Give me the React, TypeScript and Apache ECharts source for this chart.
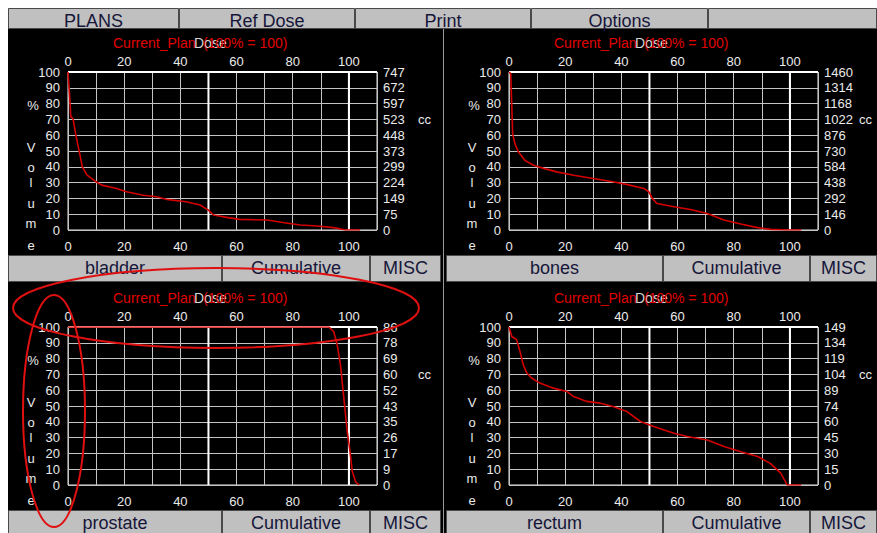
import React, { useEffect, useRef } from 'react';
import * as echarts from 'echarts';

// ---------- data ----------
const doseTickLabels = [0, 20, 40, 60, 80, 100];
const volumeTickLabels = [100, 90, 80, 70, 60, 50, 40, 30, 20, 10, 0];
const majorDoseLines = [50, 100];
const majorVolumeLines = [100];
const doseAxisMax = 110;

const ccLabelsBladder = ['747', '672', '597', '523', '448', '373', '299', '224', '149', '75', '0'];
const ccLabelsBones = ['1460', '1314', '1168', '1022', '876', '730', '584', '438', '292', '146', '0'];
const ccLabelsProstate = ['86', '78', '69', '60', '52', '43', '35', '26', '17', '9', '0'];
const ccLabelsRectum = ['149', '134', '119', '104', '89', '74', '60', '45', '30', '15', '0'];

const bladderDose = [0, 0.6, 1, 1.8, 2.7, 3.9, 5.1, 6.8, 10, 12, 17.3, 20.8, 26.8, 31.5, 35, 42, 47, 50, 51.8, 56.5, 61, 71, 77, 82.7, 88.7, 94.6, 98.8, 104];
const bladderVolume = [100, 84, 71.6, 70.5, 61, 50.5, 40, 34.7, 30.5, 28.4, 26.3, 24.2, 22, 21, 19.4, 17.9, 15.8, 12.6, 9.5, 8, 6.7, 6.3, 4.6, 3.2, 2.5, 1.5, 0, 0];

const bonesDose = [0, 0.6, 1, 1.3, 2.1, 3.3, 5.7, 8.7, 12.3, 17, 23, 30, 37, 43, 48, 49.8, 51, 52.7, 58.7, 64.6, 70.6, 76.5, 82.5, 88.5, 93.2, 99, 104];
const bonesVolume = [100, 99, 78, 61, 54.7, 49.5, 44, 41, 39, 36.8, 34.7, 32.6, 30.5, 28.4, 26.3, 24.2, 20, 16.8, 14.7, 13, 10.5, 6.3, 3.8, 1.5, 0.4, 0, 0];

const prostateDose = [0, 92.9, 94.6, 95.8, 97, 98.2, 99.4, 100.4, 101.2, 102.4, 103.6];
const prostateVolume = [100, 100, 97, 89, 76, 55, 34, 21, 8.5, 2, 0];

const rectumDose = [0, 1, 2.7, 3.9, 5.1, 6.3, 8, 11, 15.8, 20.6, 23, 27.7, 32.5, 37, 42, 46.8, 51.5, 58.7, 63.5, 70.6, 76.5, 82.5, 88.5, 93, 96.8, 99, 104];
const rectumVolume = [100, 94, 92, 84.6, 76, 71, 67.7, 64.5, 61.3, 59.2, 56, 52.9, 51.8, 49.7, 46.5, 40.2, 37, 32.8, 30.7, 28.5, 24.3, 21, 18, 13.7, 7.4, 0, 0];

const structureNames = ['bladder', 'bones', 'prostate', 'rectum'];
const topButtonLabels = ['PLANS', 'Ref Dose', 'Print', 'Options', ''];
const panelButtonLabels = ['Cumulative', 'MISC'];
const titleMain = 'Current_Plan';
const titleRef = '(100% = 100)';
const titleDose = 'Dose';
const unitLabel = 'cc';
const volumeLetters = ['%', 'V', 'o', 'l', 'u', 'm', 'e'];

// ---------- layout ----------
const FONT = '"Liberation Sans", Arial, sans-serif';
const TXT = '#ebebeb';
const BTN_TXT = '#16163a';
const GRID_W = 309;
const GRID_H = 158;

const panels = [
  { dose: bladderDose, volume: bladderVolume, cc: ccLabelsBladder, left: 68, top: 72 },
  { dose: bonesDose, volume: bonesVolume, cc: ccLabelsBones, left: 509, top: 72 },
  { dose: prostateDose, volume: prostateVolume, cc: ccLabelsProstate, left: 68, top: 327 },
  { dose: rectumDose, volume: rectumVolume, cc: ccLabelsRectum, left: 509, top: 327 },
];

const letterOffsets = [
  { dx: -35, dy: 33 },
  { dx: -37, dy: 75 },
  { dx: -37, dy: 95 },
  { dx: -37, dy: 110 },
  { dx: -37, dy: 131 },
  { dx: -37, dy: 151 },
  { dx: -37, dy: 173 },
];

function doseFmt(v: number) {
  const r = Math.round(v);
  return doseTickLabels.indexOf(r) >= 0 ? String(r) : '';
}

function txt(text: string, x: number, y: number, size: number, fill: string, align = 'center', z = 20) {
  return {
    type: 'text',
    x,
    y,
    z,
    silent: true,
    style: {
      text,
      fill,
      font: `${size}px ${FONT}`,
      align,
      textAlign: align,
      verticalAlign: 'middle',
      textVerticalAlign: 'middle',
    },
  };
}

function button(x: number, y: number, w: number, h: number, label: string) {
  return [
    {
      type: 'rect',
      z: 10,
      silent: true,
      shape: { x: x + 0.5, y: y + 0.5, width: w - 1, height: h - 1 },
      style: { fill: '#c0c0c0', stroke: '#4a4a4a', lineWidth: 1 },
    },
    txt(label, x + w / 2, y + 13, 18, BTN_TXT, 'center', 11),
  ];
}

export default function App() {
  const ref = useRef<HTMLDivElement>(null);

  useEffect(() => {
    if (!ref.current) return;
    const chart = echarts.init(ref.current, undefined, { renderer: 'svg' });

    const labelBase = { color: TXT, fontSize: 13, fontFamily: FONT };
    const grid: any[] = [];
    const xAxis: any[] = [];
    const yAxis: any[] = [];
    const series: any[] = [];
    const graphic: any[] = [];

    // background panel
    graphic.push({
      type: 'rect',
      z: -5,
      silent: true,
      shape: { x: 8, y: 28, width: 869, height: 505 },
      style: { fill: '#000000' },
    });
    graphic.push({
      type: 'line',
      z: 1,
      silent: true,
      shape: { x1: 443.5, y1: 28, x2: 443.5, y2: 533 },
      style: { stroke: '#9a9a9a', lineWidth: 1 },
    });

    // top bar
    graphic.push({
      type: 'rect',
      z: 9,
      silent: true,
      shape: { x: 8, y: 8, width: 869, height: 20 },
      style: { fill: '#c0c0c0' },
    });
    const topBtns = [
      { x: 8, w: 171 },
      { x: 179, w: 176 },
      { x: 355, w: 176 },
      { x: 531, w: 177 },
      { x: 708, w: 169 },
    ];
    topBtns.forEach((b, i) => {
      graphic.push(...button(b.x, 8, b.w, 21, topButtonLabels[i]));
    });

    const majorStyle = { color: '#ffffff', width: 2 };

    panels.forEach((p, i) => {
      grid.push({
        left: p.left,
        top: p.top,
        width: GRID_W,
        height: GRID_H,
        show: true,
        borderColor: '#e8e8e8',
        borderWidth: 1,
        backgroundColor: 'transparent',
      });
      xAxis.push(
        {
          gridIndex: i, type: 'value', min: 0, max: doseAxisMax, interval: 10, position: 'bottom',
          axisLine: { show: false, onZero: false }, axisTick: { show: false },
          splitLine: { show: true, lineStyle: { color: '#c4c4c4', width: 1 } },
          axisLabel: { ...labelBase, interval: 0, margin: 10, formatter: doseFmt },
        },
        {
          gridIndex: i, type: 'value', min: 0, max: doseAxisMax, interval: 10, position: 'top',
          axisLine: { show: false, onZero: false }, axisTick: { show: false },
          splitLine: { show: false },
          axisLabel: { ...labelBase, interval: 0, margin: 4, formatter: doseFmt },
        }
      );
      const cc = p.cc;
      yAxis.push(
        {
          gridIndex: i, type: 'value', min: 0, max: 100, interval: 10, position: 'left',
          axisLine: { show: false, onZero: false }, axisTick: { show: false },
          splitLine: { show: true, lineStyle: { color: '#c4c4c4', width: 1 } },
          axisLabel: {
            ...labelBase, margin: 8,
            formatter: (v: number) => {
              const r = Math.round(v);
              return volumeTickLabels.indexOf(r) >= 0 ? String(r) : '';
            },
          },
        },
        {
          gridIndex: i, type: 'value', min: 0, max: 100, interval: 10, position: 'right',
          axisLine: { show: false, onZero: false }, axisTick: { show: false },
          splitLine: { show: false },
          axisLabel: {
            ...labelBase, margin: 6,
            formatter: (v: number) => cc[10 - Math.round(v / 10)] ?? '',
          },
        }
      );
      // major grid lines, drawn as plain line series through the axes
      majorDoseLines.forEach((d) => {
        series.push({
          type: 'line', xAxisIndex: i * 2, yAxisIndex: i * 2, silent: true, z: 3,
          showSymbol: false, symbol: 'none', lineStyle: majorStyle,
          data: [[d, 0], [d, 100]],
        });
      });
      majorVolumeLines.forEach((v) => {
        series.push({
          type: 'line', xAxisIndex: i * 2, yAxisIndex: i * 2, silent: true, z: 3,
          showSymbol: false, symbol: 'none', lineStyle: majorStyle,
          data: [[0, v], [doseAxisMax, v]],
        });
      });
      series.push({
        type: 'line',
        xAxisIndex: i * 2,
        yAxisIndex: i * 2,
        data: p.dose.map((d, k) => [d, p.volume[k]]),
        showSymbol: false,
        symbol: 'none',
        lineStyle: { color: '#d40000', width: 1.6 },
        z: 5,
      });

      // titles
      graphic.push(txt(titleMain, p.left + 45, p.top - 29, 14, '#e00000', 'left'));
      graphic.push(txt(titleDose, p.left + 126, p.top - 29, 14, 'rgba(255,255,255,0.85)', 'left', 21));
      graphic.push(txt(titleRef, p.left + 135, p.top - 29, 14, '#e00000', 'left', 22));

      // Volume letters
      volumeLetters.forEach((ch, k) => {
        graphic.push(txt(ch, p.left + letterOffsets[k].dx, p.top + letterOffsets[k].dy, 13, TXT, 'center'));
      });
      // cc unit
      graphic.push(txt(unitLabel, p.left + 350, p.top + 47, 13, TXT, 'left'));

      // bottom button bar
      const barY = p.top + 183;
      const isLeft = p.left < 300;
      const bx = isLeft ? [8, 222, 370] : [446, 663, 810];
      const bw = isLeft ? [214, 148, 71] : [217, 147, 67];
      const labels = [structureNames[i], ...panelButtonLabels];
      labels.forEach((lab, k) => {
        graphic.push(...button(bx[k], barY, bw[k], 27, lab));
      });
    });

    // annotation ellipses
    graphic.push({
      type: 'ellipse',
      z: 100,
      silent: true,
      shape: { cx: 216, cy: 308, rx: 203, ry: 40 },
      style: { fill: 'none', stroke: '#e01010', lineWidth: 2 },
    });
    graphic.push({
      type: 'ellipse',
      z: 100,
      silent: true,
      shape: { cx: 54, cy: 411, rx: 31, ry: 116 },
      style: { fill: 'none', stroke: '#e01010', lineWidth: 2 },
    });

    chart.setOption({
      animation: false,
      backgroundColor: '#ffffff',
      grid,
      xAxis,
      yAxis,
      series,
      graphic: { elements: graphic },
    });

    return () => chart.dispose();
  }, []);

  return <div ref={ref} style={{ position: 'absolute', left: 0, top: 0, width: 877, height: 533 }} />;
}
